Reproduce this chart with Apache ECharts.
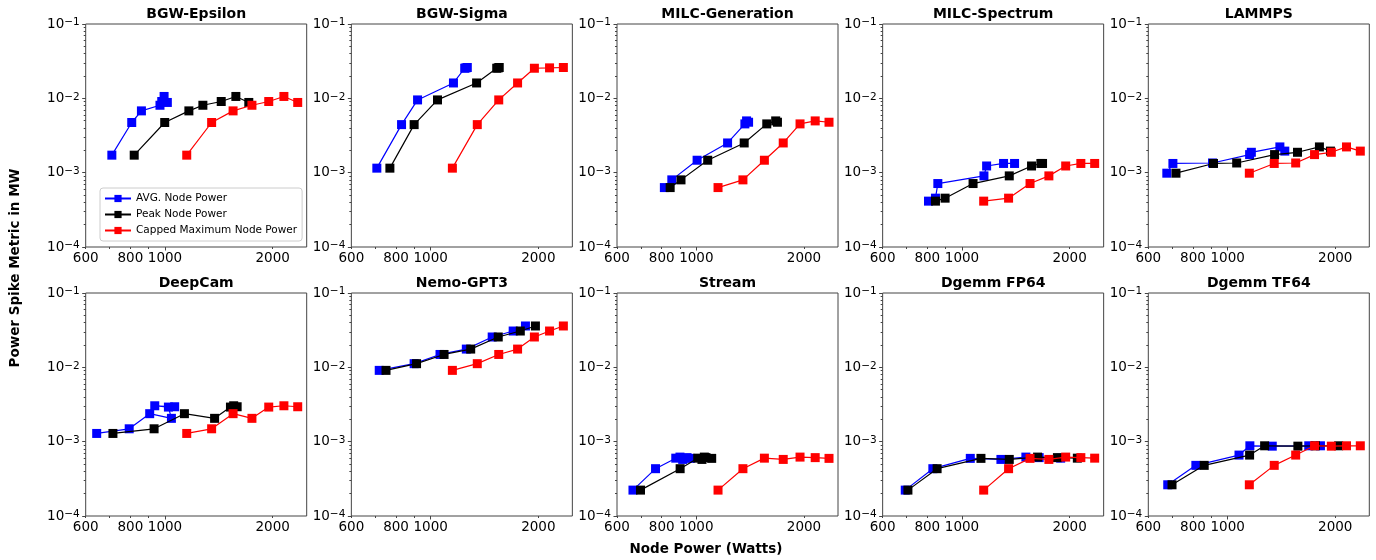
<!DOCTYPE html>
<html>
<head>
<meta charset="utf-8">
<script src="https://cdn.jsdelivr.net/npm/echarts@6/dist/echarts.min.js"></script>
<style>
html, body { margin: 0; background: #fff; }
#main { width: 1376px; height: 560px; }
</style>
</head>
<body>
<div id="main"></div>
<script>
const panelNames = ['BGW-Epsilon', 'BGW-Sigma', 'MILC-Generation', 'MILC-Spectrum', 'LAMMPS',
    'DeepCam', 'Nemo-GPT3', 'Stream', 'Dgemm FP64', 'Dgemm TF64']
const seriesNames = ['AVG. Node Power', 'Peak Node Power', 'Capped Maximum Node Power']
const seriesColors = ['#0000ff', '#000000', '#ff0000']

// power cap levels, same in every panel
const capPower = [1150, 1350, 1550, 1750, 1950, 2150, 2350]

const avgPower = [
    [710, 807, 859, 968, 979, 994, 1015],
    [707, 829, 919, 1158, 1245, 1255, 1266],
    [814, 854, 1005, 1223, 1367, 1382, 1400],
    [806, 843, 856, 1152, 1172, 1307, 1403],
    [676, 703, 907, 1152, 1165, 1400, 1445],
    [644, 794, 906, 1042, 1022, 936, 1064],
    [718, 899, 1062, 1258, 1486, 1701, 1841],
    [665, 769, 876, 916, 900, 942, 962],
    [694, 829, 1055, 1285, 1509, 1644, 1888],
    [680, 815, 1076, 1154, 1333, 1686, 1818],
]

const peakPower = [
    [820, 998, 1166, 1276, 1436, 1578, 1715],
    [769, 899, 1045, 1344, 1530, 1545, 1555],
    [845, 906, 1076, 1361, 1574, 1667, 1686],
    [843, 897, 1074, 1356, 1565, 1662, 1680],
    [717, 913, 1060, 1353, 1568, 1806, 1939],
    [715, 932, 1133, 1376, 1524, 1556, 1591],
    [750, 913, 1090, 1294, 1545, 1781, 1963],
    [698, 901, 1009, 1037, 1053, 1064, 1104],
    [706, 852, 1130, 1356, 1627, 1849, 2102],
    [699, 860, 1152, 1269, 1572, 1761, 2044],
]

// power spike metric (MW), one value per cap level
const spikeMetric = [
    [0.00172, 0.00473, 0.00678, 0.00807, 0.00906, 0.0106, 0.0088],
    [0.00115, 0.00443, 0.00952, 0.0161, 0.0254, 0.0257, 0.026],
    [0.00063, 0.0008, 0.00147, 0.00251, 0.00453, 0.00497, 0.00477],
    [0.000414, 0.000454, 0.000714, 0.000905, 0.00123, 0.00133, 0.00133],
    [0.000984, 0.00133, 0.00135, 0.00175, 0.00188, 0.00222, 0.00195],
    [0.00129, 0.00149, 0.00238, 0.00206, 0.00292, 0.00304, 0.00295],
    [0.0091, 0.0112, 0.0149, 0.0176, 0.0256, 0.0308, 0.036],
    [0.000223, 0.000433, 0.0006, 0.000577, 0.00062, 0.00061, 0.000596],
    [0.000223, 0.000433, 0.000596, 0.000577, 0.00062, 0.00061, 0.0006],
    [0.000263, 0.00048, 0.00066, 0.00088, 0.00087, 0.00088, 0.00088],
]

const xLabelValues = [600, 800, 1000, 2000]
const xMajorTicks = [1000]
const xMinorTicks = [600, 700, 800, 900, 2000]
const yMinorTicks = [
    0.0002, 0.0003, 0.0004, 0.0005, 0.0006, 0.0007, 0.0008, 0.0009,
    0.002, 0.003, 0.004, 0.005, 0.006, 0.007, 0.008, 0.009,
    0.02, 0.03, 0.04, 0.05, 0.06, 0.07, 0.08, 0.09,
]

const FONT = 'DejaVu Sans'
const FRAME = '#444'
const rowTop = [24, 293]
const gridW = 221
const gridH = 223

const grids = []
const xAxes = []
const yAxes = []
const series = []
const graphics = []

panelNames.forEach((name, i) => {
    const col = i % 5
    const row = Math.floor(i / 5)
    const left = 85.7 + col * 265.65
    const top = rowTop[row]

    grids.push({
        left, top, width: gridW, height: gridH,
        show: true, borderColor: FRAME, borderWidth: 1,
    })

    xAxes.push({
        type: 'log', gridIndex: i, min: 600, max: 2490, position: 'bottom',
        axisLine: { show: false },
        splitLine: { show: false },
        axisTick: { customValues: xMajorTicks, length: 3.5, lineStyle: { color: FRAME } },
        axisLabel: {
            customValues: xLabelValues,
            formatter: v => String(v),
            color: '#000', fontSize: 13.5, fontFamily: FONT, margin: 4,
        },
    })
    xAxes.push({
        type: 'log', gridIndex: i, min: 600, max: 2490, position: 'bottom',
        axisLine: { show: false },
        splitLine: { show: false },
        axisTick: { customValues: xMinorTicks, length: 2, lineStyle: { color: FRAME } },
        axisLabel: { show: false },
    })

    yAxes.push({
        type: 'log', gridIndex: i, min: 0.0001, max: 0.1, logBase: 10, position: 'left',
        axisLine: { show: false },
        splitLine: { show: false },
        axisTick: { length: 3.5, lineStyle: { color: FRAME } },
        axisLabel: {
            color: '#000', fontFamily: FONT, margin: 6,
            formatter: v => '{b|10}{s|\u2212' + Math.round(-Math.log10(v)) + '}',
            rich: {
                b: { fontSize: 13.5, lineHeight: 14, verticalAlign: 'bottom', fontFamily: FONT, color: '#000' },
                s: { fontSize: 10.5, lineHeight: 10, verticalAlign: 'top', padding: [0, 0, 6, 0], fontFamily: FONT, color: '#000' },
            },
        },
    })
    yAxes.push({
        type: 'log', gridIndex: i, min: 0.0001, max: 0.1, logBase: 10, position: 'left',
        axisLine: { show: false },
        splitLine: { show: false },
        axisTick: { customValues: yMinorTicks, length: 2, lineStyle: { color: FRAME } },
        axisLabel: { show: false },
    })

    const xs = [avgPower[i], peakPower[i], capPower]
    xs.forEach((xv, k) => {
        series.push({
            name: seriesNames[k],
            type: 'line',
            xAxisIndex: 2 * i,
            yAxisIndex: 2 * i,
            data: xv.map((x, j) => [x, spikeMetric[i][j]]),
            symbol: 'rect',
            symbolSize: 9,
            color: seriesColors[k],
            lineStyle: { width: 1.2, color: seriesColors[k] },
            itemStyle: { color: seriesColors[k] },
            z: 2 + k,
        })
    })

    graphics.push({
        type: 'text',
        x: left + gridW / 2,
        y: top - 10,
        style: {
            text: name, fill: '#000',
            font: 'bold 14px "DejaVu Sans"',
            textAlign: 'center', textVerticalAlign: 'middle',
            align: 'center', verticalAlign: 'middle',
        },
    })
})

graphics.push({
    type: 'text',
    x: 706, y: 549,
    style: {
        text: 'Node Power (Watts)', fill: '#000',
        font: 'bold 13.5px "DejaVu Sans"',
        textAlign: 'center', textVerticalAlign: 'middle',
        align: 'center', verticalAlign: 'middle',
    },
})
graphics.push({
    type: 'text',
    x: 15, y: 268,
    rotation: Math.PI / 2,
    style: {
        text: 'Power Spike Metric in MW', fill: '#000',
        font: 'bold 13.5px "DejaVu Sans"',
        textAlign: 'center', textVerticalAlign: 'middle',
        align: 'center', verticalAlign: 'middle',
    },
})

const chart = echarts.init(document.getElementById('main'))
chart.setOption({
    animation: false,
    textStyle: { fontFamily: FONT },
    grid: grids,
    xAxis: xAxes,
    yAxis: yAxes,
    legend: {
        data: seriesNames,
        orient: 'vertical',
        left: 100, top: 188,
        itemWidth: 26, itemHeight: 9, itemGap: 3,
        padding: [4, 5, 4, 4],
        borderColor: '#ccc', borderWidth: 1, borderRadius: 3,
        backgroundColor: 'rgba(255,255,255,0.8)',
        textStyle: { fontSize: 10.5, fontFamily: FONT, color: '#000', lineHeight: 13 },
    },
    graphic: graphics,
    series,
})
</script>
</body>
</html>
